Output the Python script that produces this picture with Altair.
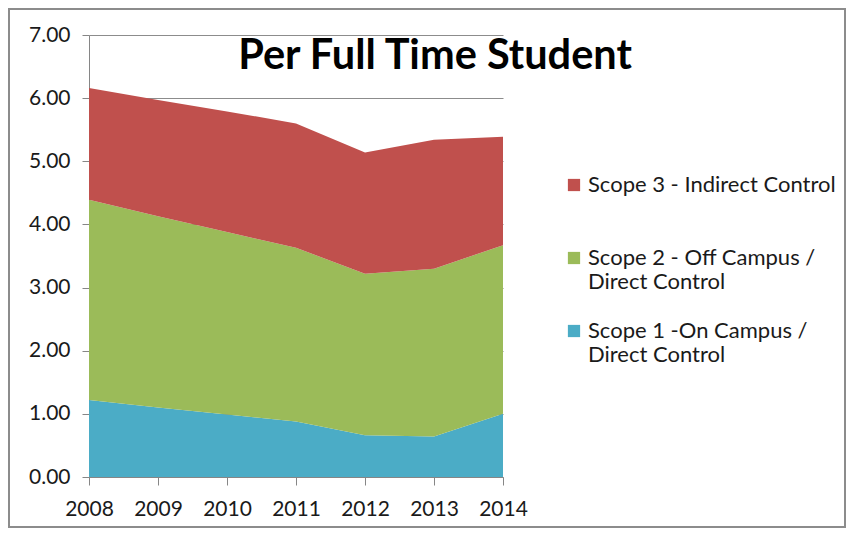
import altair as alt
import pandas as pd

years = [2008, 2009, 2010, 2011, 2012, 2013, 2014]
series = [
    "Scope 3 - Indirect Control",
    "Scope 2 - Off Campus / Direct Control",
    "Scope 1 -On Campus / Direct Control",
]
scope1 = [1.22, 1.10, 0.99, 0.88, 0.66, 0.64, 1.00]
scope2 = [3.17, 3.03, 2.89, 2.75, 2.56, 2.66, 2.67]
scope3 = [1.77, 1.84, 1.91, 1.97, 1.92, 2.04, 1.72]
colors = ["#C0504D", "#9BBB59", "#4BACC6"]
y_ticks = [0, 1, 2, 3, 4, 5, 6, 7]
title_text = "Per Full Time Student"

rows = []
for i, y in enumerate(years):
    rows.append({"year": y, "series": series[2], "value": scope1[i], "ord": 1})
    rows.append({"year": y, "series": series[1], "value": scope2[i], "ord": 2})
    rows.append({"year": y, "series": series[0], "value": scope3[i], "ord": 3})
df = pd.DataFrame(rows)

FONT = "Lato"
W, H = 414, 442
PL, PT, PR, PB = 81, 27, 343, 51

label_expr = "split(replace(datum.label, ' / ', ' /|'), '|')"

area = alt.Chart(df).mark_area(opacity=1).encode(
    x=alt.X("year:Q", scale=alt.Scale(domain=[2008, 2014], nice=False),
            axis=alt.Axis(values=years, format="d", title=None, grid=False,
                          tickSize=8, labelPadding=13, labelFlush=False,
                          labelOverlap=False)),
    y=alt.Y("value:Q", stack="zero",
            scale=alt.Scale(domain=[0, 7], nice=False),
            axis=alt.Axis(values=y_ticks, format=".2f", title=None, grid=True,
                          tickSize=7, labelPadding=12)),
    color=alt.Color("series:N",
                    scale=alt.Scale(domain=series, range=colors),
                    legend=alt.Legend(title=None, orient="none", legendX=474, legendY=139,
                                      symbolType="square", symbolSize=150,
                                      symbolStrokeWidth=0, labelOffset=3,
                                      labelLimit=400, rowPadding=27, gridAlign="all",
                                      labelExpr=label_expr)),
    order=alt.Order("ord:Q"),
)

title = alt.Chart(alt.Data(values=[{"t": title_text}])).mark_text(
    font=FONT, fontSize=41.5, fontWeight="bold", color="#000000",
    align="center", baseline="alphabetic"
).encode(text="t:N", x=alt.value(346), y=alt.value(34))

border = alt.Chart(alt.Data(values=[{}])).mark_rect(
    fill=None, stroke="#8c8c8c", strokeWidth=2
).encode(
    x=alt.value(-PL + 1), x2=alt.value(W + PR - 1),
    y=alt.value(-PT + 1), y2=alt.value(H + PB - 1),
)

chart = alt.layer(area, title, border).properties(
    width=W, height=H,
    padding={"left": PL, "top": PT, "right": PR, "bottom": PB},
    autosize=alt.AutoSizeParams(type="none"),
).configure_view(stroke=None).configure_axis(
    labelFont=FONT, labelFontSize=21, labelColor="#1a1a1a",
    domainColor="#868686", tickColor="#868686", gridColor="#8c8c8c",
    domainWidth=1, tickWidth=1, gridWidth=1,
).configure_legend(
    labelFont=FONT, labelFontSize=22, labelColor="#1a1a1a",
)

chart.save("out.html", embed_options={"renderer": "svg", "actions": False})
